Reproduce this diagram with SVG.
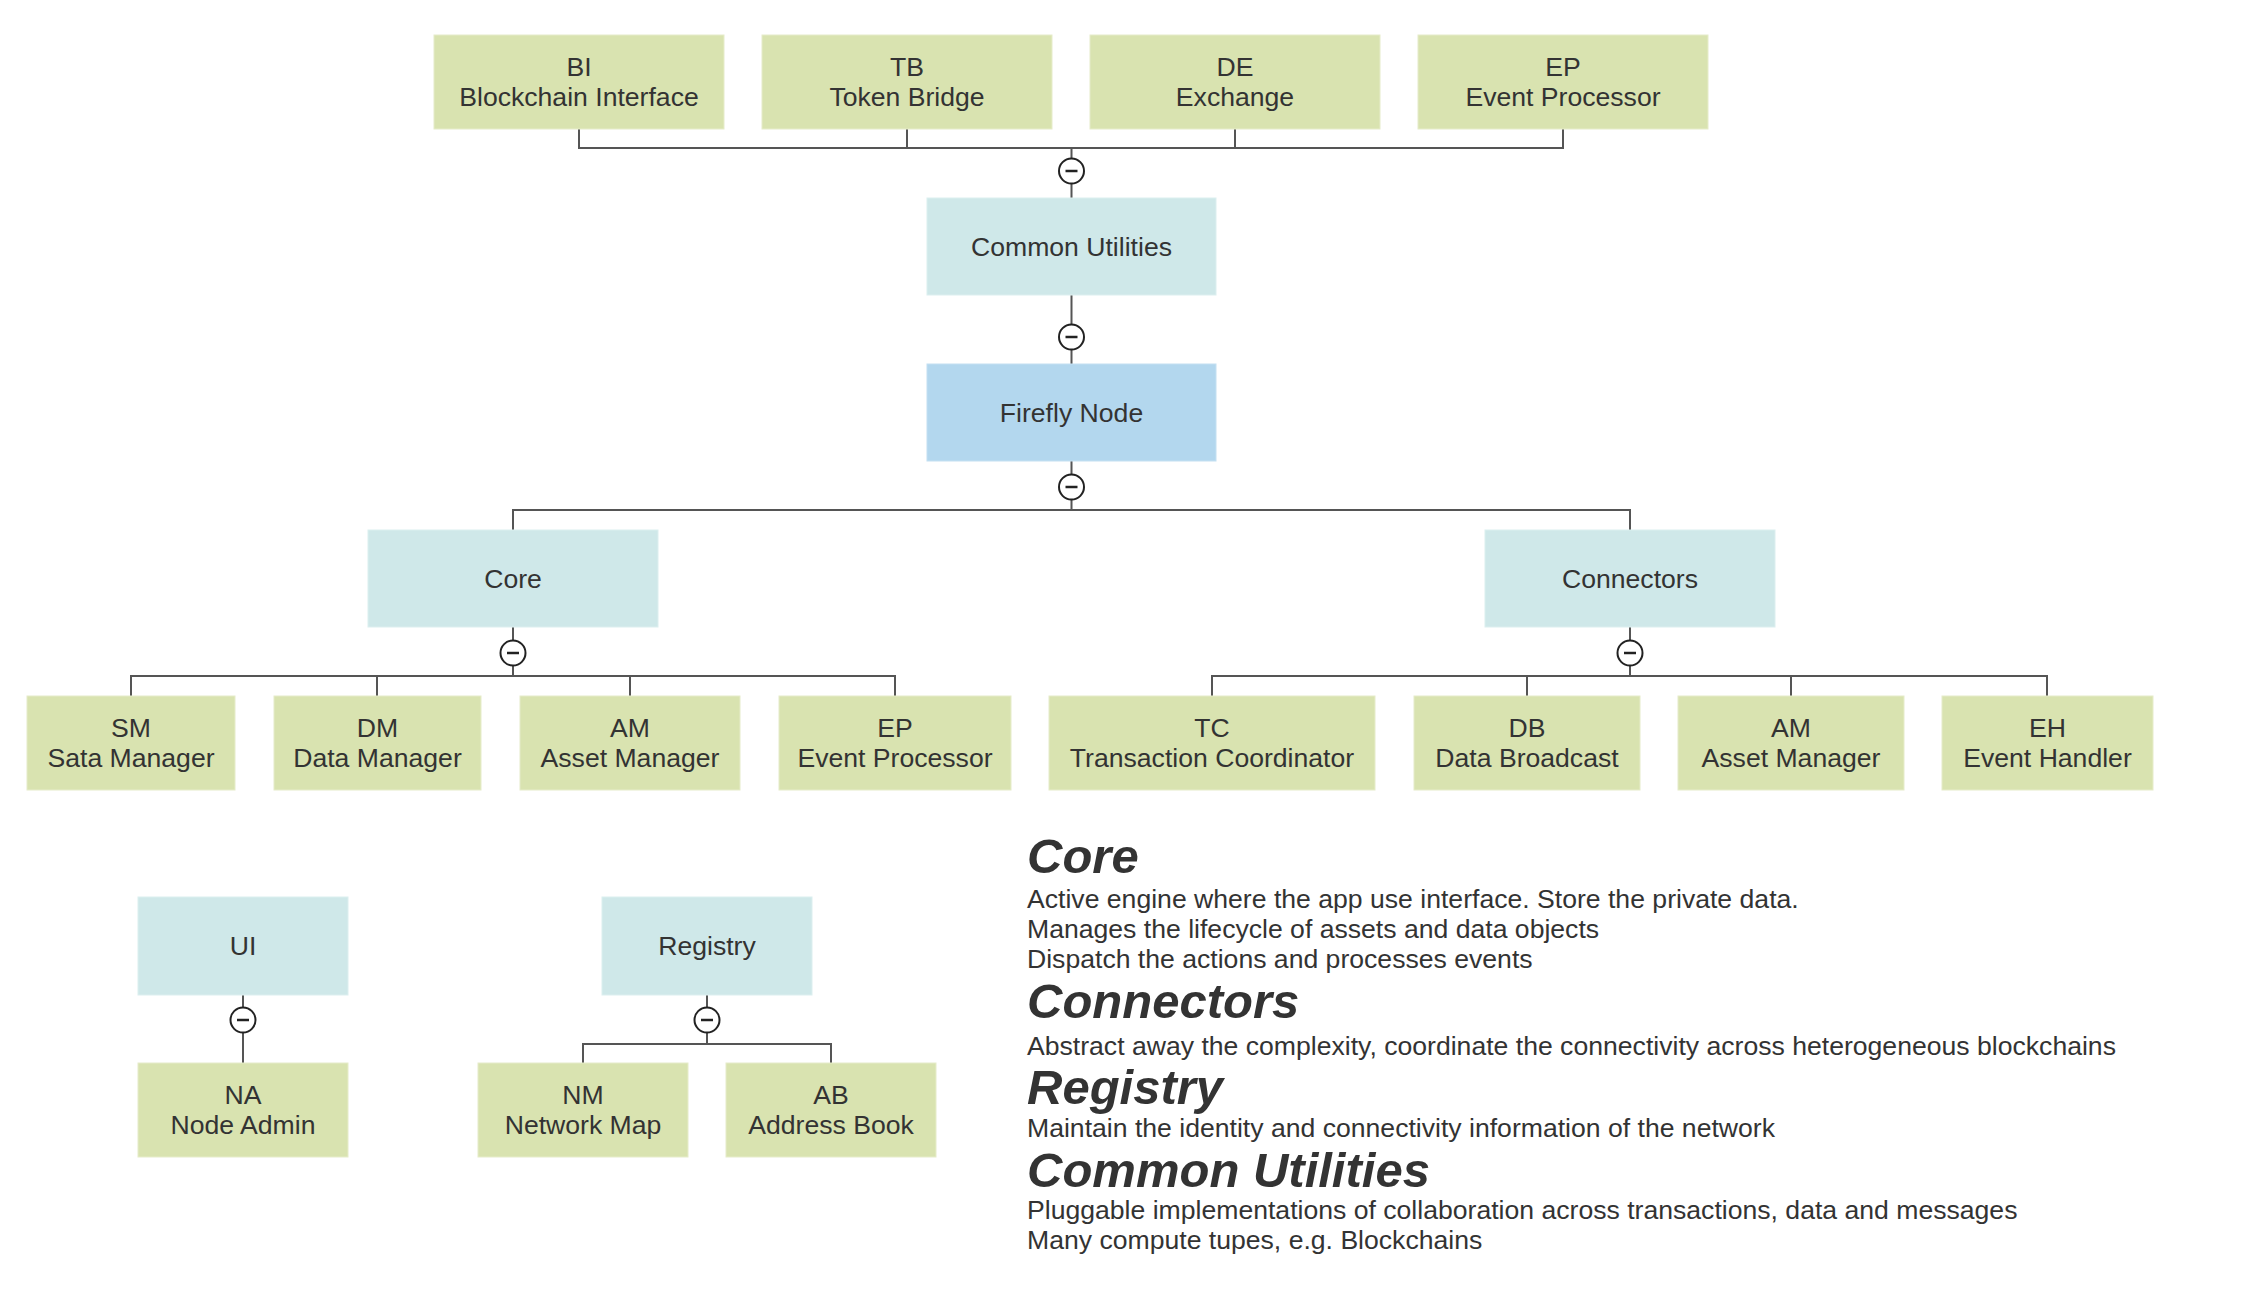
<svg xmlns="http://www.w3.org/2000/svg" width="2252" height="1305" viewBox="0 0 2252 1305">
<style>
  .g { fill: #d9e3b0; stroke: #e6ecca; stroke-width: 1; }
  .c { fill: #cfe8e9; stroke: #dcefef; stroke-width: 1; }
  .b { fill: #b3d7ee; stroke: #c4e0f2; stroke-width: 1; }
  .t { font-family: "Liberation Sans", Arial, sans-serif; font-size: 26.6px; fill: #333333; text-anchor: middle; }
  .h { font-family: "Liberation Sans", Arial, sans-serif; font-size: 49px; font-weight: bold; font-style: italic; fill: #333333; }
  .d { font-family: "Liberation Sans", Arial, sans-serif; font-size: 26.6px; fill: #333333; }
  .ln { fill: none; stroke: #555555; stroke-width: 2; }
  .ci { fill: #ffffff; stroke: #222222; stroke-width: 2; }
  .mi { stroke: #222222; stroke-width: 2.5; }
</style>
<defs>
  <g id="tog">
    <circle class="ci" cx="0" cy="0" r="12.5"/>
    <line class="mi" x1="-6" y1="0" x2="6" y2="0"/>
  </g>
</defs>
<rect width="2252" height="1305" fill="#ffffff"/>

<g id="connectors">
  <path class="ln" d="M579,129 V148 H1563 V129 M907,129 V148 M1235,129 V148 M1071.5,148 V198"/>
  <path class="ln" d="M1071.5,295 V364"/>
  <path class="ln" d="M1071.5,461 V510 M513,530 V510 H1630 V530"/>
  <path class="ln" d="M513,627 V676 M131,696 V676 H895 V696 M377,676 V696 M630,676 V696"/>
  <path class="ln" d="M1630,627 V676 M1212,696 V676 H2047 V696 M1527,676 V696 M1791,676 V696"/>
  <path class="ln" d="M243,995 V1063"/>
  <path class="ln" d="M707,995 V1044 M583,1063 V1044 H831 V1063"/>
  <use href="#tog" x="1071.5" y="171"/>
  <use href="#tog" x="1071.5" y="337"/>
  <use href="#tog" x="1071.5" y="487"/>
  <use href="#tog" x="513" y="653"/>
  <use href="#tog" x="1630" y="653"/>
  <use href="#tog" x="243" y="1020"/>
  <use href="#tog" x="707" y="1020"/>
</g>

<g id="node-bi">
  <rect class="g" x="434" y="35" width="290" height="94"/>
  <text class="t" x="579" y="76">BI</text>
  <text class="t" x="579" y="106">Blockchain Interface</text>
</g>
<g id="node-tb">
  <rect class="g" x="762" y="35" width="290" height="94"/>
  <text class="t" x="907" y="76">TB</text>
  <text class="t" x="907" y="106">Token Bridge</text>
</g>
<g id="node-de">
  <rect class="g" x="1090" y="35" width="290" height="94"/>
  <text class="t" x="1235" y="76">DE</text>
  <text class="t" x="1235" y="106">Exchange</text>
</g>
<g id="node-ep-top">
  <rect class="g" x="1418" y="35" width="290" height="94"/>
  <text class="t" x="1563" y="76">EP</text>
  <text class="t" x="1563" y="106">Event Processor</text>
</g>

<g id="node-common-utilities">
  <rect class="c" x="927" y="198" width="289" height="97"/>
  <text class="t" x="1071.5" y="256">Common Utilities</text>
</g>
<g id="node-firefly">
  <rect class="b" x="927" y="364" width="289" height="97"/>
  <text class="t" x="1071.5" y="422">Firefly Node</text>
</g>
<g id="node-core">
  <rect class="c" x="368" y="530" width="290" height="97"/>
  <text class="t" x="513" y="588">Core</text>
</g>
<g id="node-connectors">
  <rect class="c" x="1485" y="530" width="290" height="97"/>
  <text class="t" x="1630" y="588">Connectors</text>
</g>

<g id="node-sm">
  <rect class="g" x="27" y="696" width="208" height="94"/>
  <text class="t" x="131" y="737">SM</text>
  <text class="t" x="131" y="767">Sata Manager</text>
</g>
<g id="node-dm">
  <rect class="g" x="274" y="696" width="207" height="94"/>
  <text class="t" x="377.5" y="737">DM</text>
  <text class="t" x="377.5" y="767">Data Manager</text>
</g>
<g id="node-am-core">
  <rect class="g" x="520" y="696" width="220" height="94"/>
  <text class="t" x="630" y="737">AM</text>
  <text class="t" x="630" y="767">Asset Manager</text>
</g>
<g id="node-ep-core">
  <rect class="g" x="779" y="696" width="232" height="94"/>
  <text class="t" x="895" y="737">EP</text>
  <text class="t" x="895" y="767">Event Processor</text>
</g>

<g id="node-tc">
  <rect class="g" x="1049" y="696" width="326" height="94"/>
  <text class="t" x="1212" y="737">TC</text>
  <text class="t" x="1212" y="767">Transaction Coordinator</text>
</g>
<g id="node-db">
  <rect class="g" x="1414" y="696" width="226" height="94"/>
  <text class="t" x="1527" y="737">DB</text>
  <text class="t" x="1527" y="767">Data Broadcast</text>
</g>
<g id="node-am-conn">
  <rect class="g" x="1678" y="696" width="226" height="94"/>
  <text class="t" x="1791" y="737">AM</text>
  <text class="t" x="1791" y="767">Asset Manager</text>
</g>
<g id="node-eh">
  <rect class="g" x="1942" y="696" width="211" height="94"/>
  <text class="t" x="2047.5" y="737">EH</text>
  <text class="t" x="2047.5" y="767">Event Handler</text>
</g>

<g id="node-ui">
  <rect class="c" x="138" y="897" width="210" height="98"/>
  <text class="t" x="243" y="955">UI</text>
</g>
<g id="node-na">
  <rect class="g" x="138" y="1063" width="210" height="94"/>
  <text class="t" x="243" y="1104">NA</text>
  <text class="t" x="243" y="1134">Node Admin</text>
</g>
<g id="node-registry">
  <rect class="c" x="602" y="897" width="210" height="98"/>
  <text class="t" x="707" y="955">Registry</text>
</g>
<g id="node-nm">
  <rect class="g" x="478" y="1063" width="210" height="94"/>
  <text class="t" x="583" y="1104">NM</text>
  <text class="t" x="583" y="1134">Network Map</text>
</g>
<g id="node-ab">
  <rect class="g" x="726" y="1063" width="210" height="94"/>
  <text class="t" x="831" y="1104">AB</text>
  <text class="t" x="831" y="1134">Address Book</text>
</g>

<g id="legend">
  <text class="h" x="1027" y="873">Core</text>
  <text class="d" x="1027" y="908">Active engine where the app use interface. Store the private data.</text>
  <text class="d" x="1027" y="938">Manages the lifecycle of assets and data objects</text>
  <text class="d" x="1027" y="968">Dispatch the actions and processes events</text>
  <text class="h" x="1027" y="1018">Connectors</text>
  <text class="d" x="1027" y="1055">Abstract away the complexity, coordinate the connectivity across heterogeneous blockchains</text>
  <text class="h" x="1027" y="1104">Registry</text>
  <text class="d" x="1027" y="1137">Maintain the identity and connectivity information of the network</text>
  <text class="h" x="1027" y="1187">Common Utilities</text>
  <text class="d" x="1027" y="1219">Pluggable implementations of collaboration across transactions, data and messages</text>
  <text class="d" x="1027" y="1249">Many compute tupes, e.g. Blockchains</text>
</g>
</svg>
